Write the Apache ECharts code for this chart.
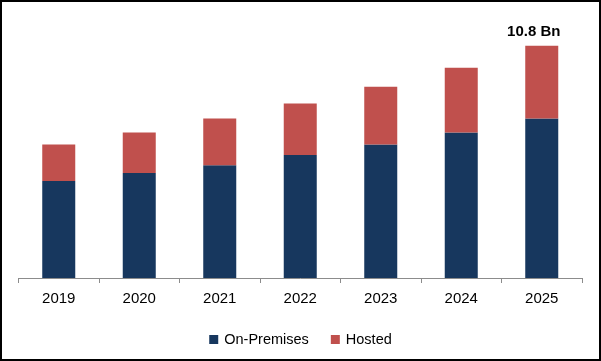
<!DOCTYPE html>
<html>
<head>
<meta charset="utf-8">
<script src="https://cdn.jsdelivr.net/npm/echarts@6/dist/echarts.min.js"></script>
<style>
html,body{margin:0;padding:0;background:#fff;}
#c{width:601px;height:361px;}
</style>
</head>
<body>
<div id="c"></div>
<script>
const categories = ['2019','2020','2021','2022','2023','2024','2025'];
const onPremises = [4.51, 4.88, 5.24, 5.72, 6.21, 6.77, 7.42];
const hosted = [1.70, 1.89, 2.18, 2.40, 2.69, 3.01, 3.38];
const seriesNames = ['On-Premises', 'Hosted'];
const lastLabel = '10.8 Bn';

const FONT = "'Liberation Sans', Arial, sans-serif";
const chart = echarts.init(document.getElementById('c'), null, {renderer:'canvas'});

const hostedData = hosted.map((v, i) => i === hosted.length - 1 ? {
  value: v,
  label: {show: true, position: 'top', distance: 6, offset: [-8, 0], formatter: lastLabel,
          fontFamily: FONT, fontSize: 15, fontWeight: 'bold', color: '#000'}
} : v);

chart.setOption({
  animation: false,
  backgroundColor: '#fff',
  textStyle: {fontFamily: FONT},
  graphic: [{
    type: 'rect', silent: true, z: 100,
    shape: {x: 1, y: 1, width: 599, height: 359},
    style: {fill: 'none', stroke: '#000', lineWidth: 2}
  }],
  grid: {left: 18.5, right: 19, top: 20, bottom: 83, containLabel: false},
  legend: {
    data: seriesNames,
    top: 327, left: 'center',
    itemWidth: 9, itemHeight: 9, itemGap: 22,
    icon: 'rect',
    textStyle: {fontFamily: FONT, fontSize: 14.5, color: '#000', padding: [0,0,0,1]}
  },
  xAxis: {
    type: 'category',
    data: categories,
    axisLine: {lineStyle: {color: '#8c8c8c', width: 1}},
    axisTick: {show: true, length: 5, lineStyle: {color: '#8c8c8c'}},
    axisLabel: {fontFamily: FONT, fontSize: 15, color: '#000', margin: 13}
  },
  yAxis: {
    type: 'value', min: 0, max: 12,
    show: false, splitLine: {show: false}
  },
  series: [
    {name: seriesNames[0], type: 'bar', stack: 'total', data: onPremises,
     barWidth: '41%', itemStyle: {color: '#17375E'}},
    {name: seriesNames[1], type: 'bar', stack: 'total', data: hostedData,
     barWidth: '41%', itemStyle: {color: '#C0504D'}}
  ]
});
</script>
</body>
</html>
